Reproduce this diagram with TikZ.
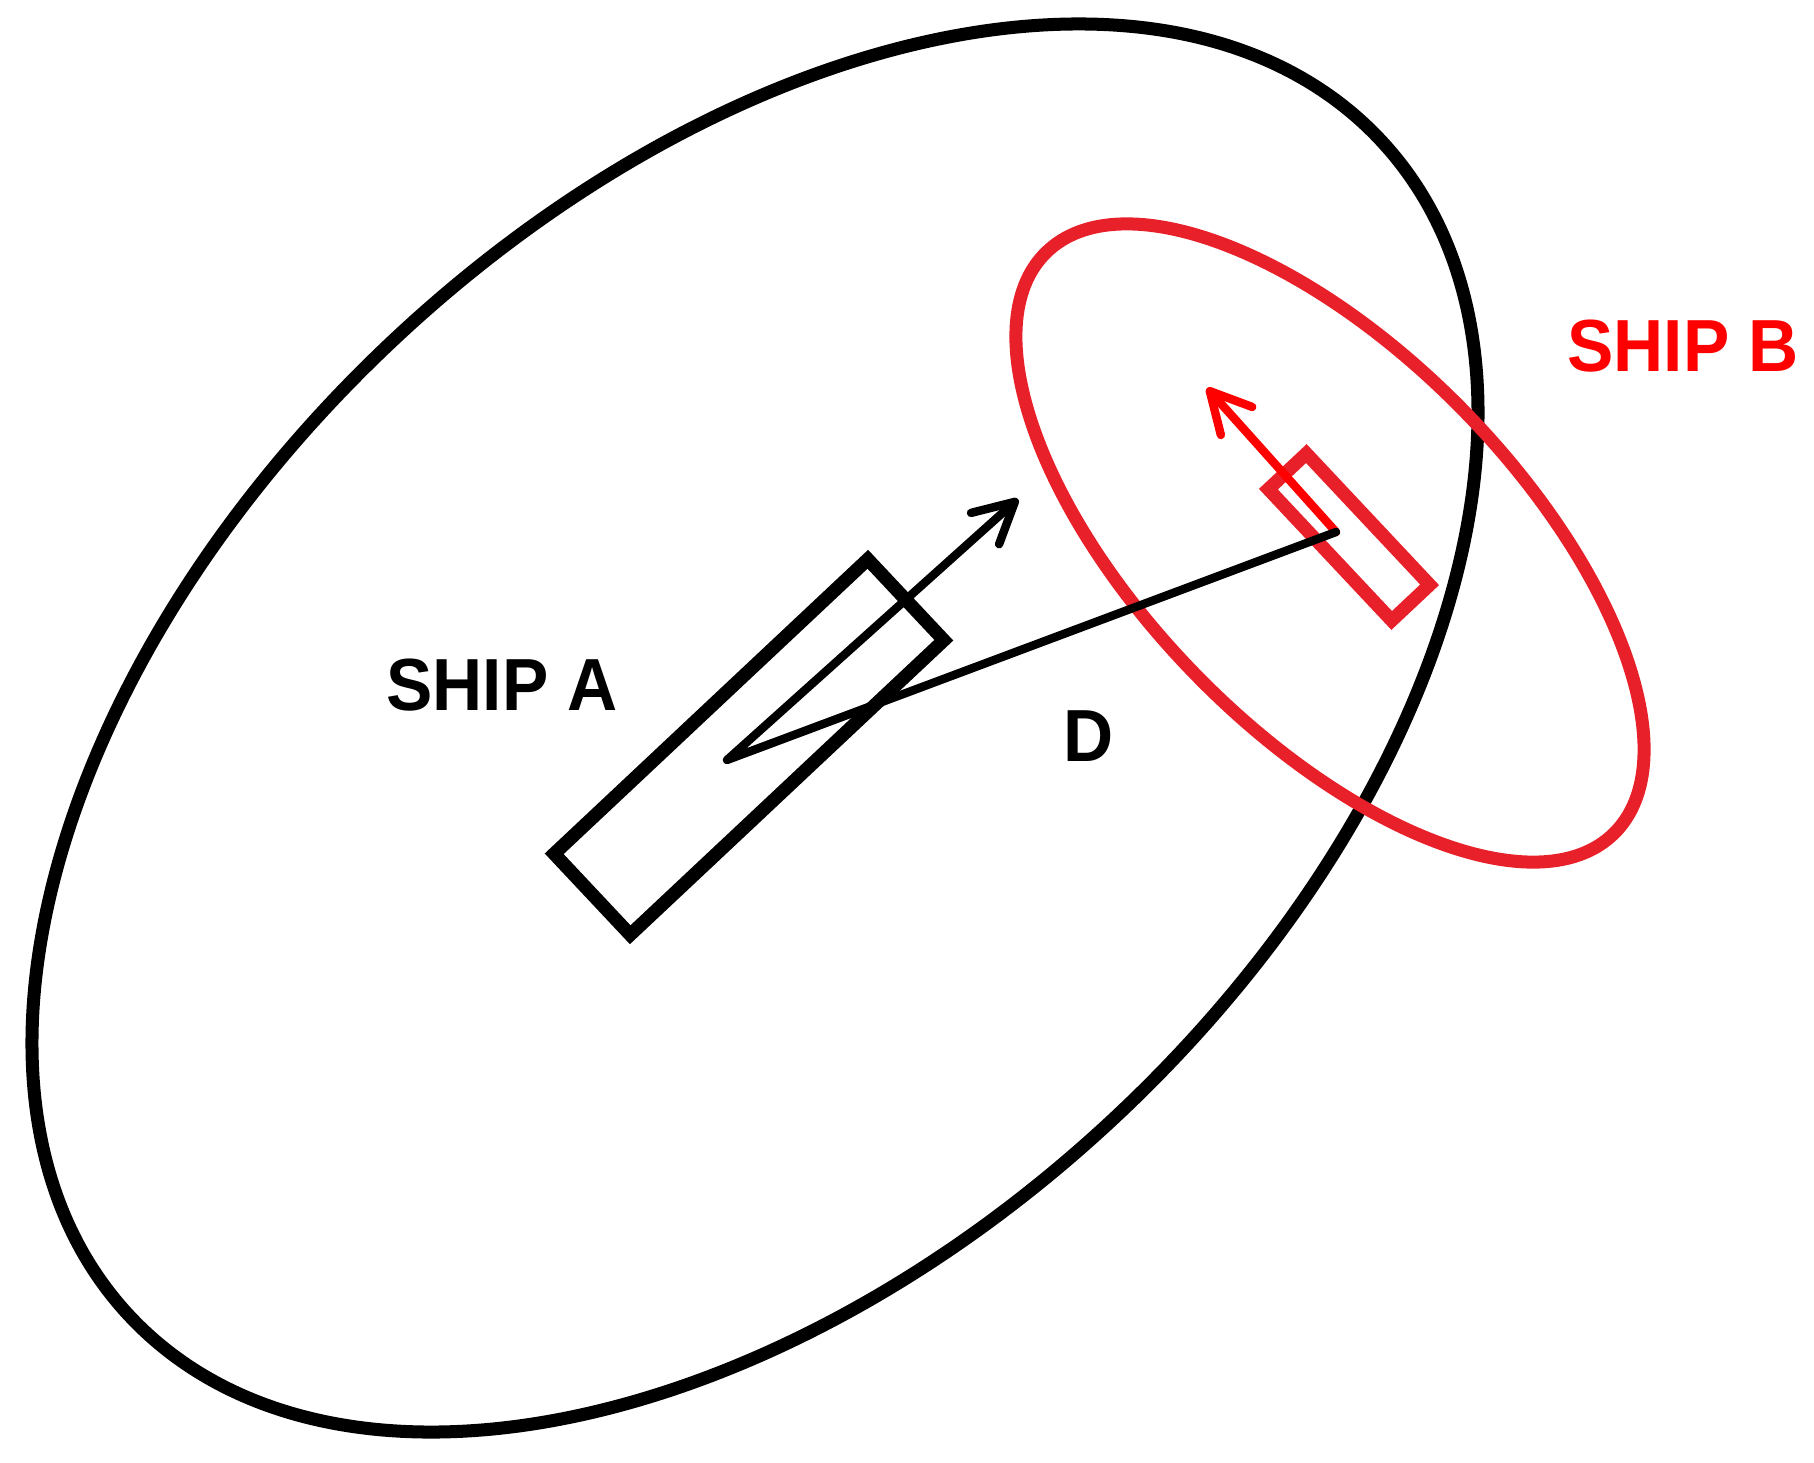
\documentclass[tikz,border=0pt]{standalone}
\usepackage{fontspec}
\setmainfont[FakeStretch=0.94]{Liberation Sans}
\usepackage{xcolor}
\usetikzlibrary{arrows.meta}
\definecolor{shipred}{RGB}{232,32,42}

\begin{document}
\begin{tikzpicture}[x=0.01cm, y=-0.01cm, every node/.style={font=\fontsize{21}{25}\selectfont\bfseries}, >={Straight Barb[length=4mm,width=4.2mm,round]}, line cap=round]
\useasboundingbox (0,0) rectangle (1814,1463);
% range ellipses
\draw[line width=3.7pt, rotate around={43.3:(755,728)}] (755,728) ellipse [x radius=8.58cm, y radius=5.30cm];
\draw[shipred, line width=3.7pt, rotate around={-45.7:(1330,543)}] (1330,543) ellipse [x radius=4.06cm, y radius=1.88cm];
% ships
\node[draw, line width=3.8pt, inner sep=0pt, minimum width=4.3cm, minimum height=1.11cm, rotate=43.2] (shipA) at (749,747) {};
\node[draw=shipred, line width=3.8pt, inner sep=0pt, minimum width=1.8cm, minimum height=0.52cm, rotate=-46.8] (shipB) at (1349,537) {};
\coordinate (pivA) at (727,760);
\coordinate (tipA) at (1018,499);
\coordinate (pivB) at (1336,532);
\coordinate (tipB) at (1207,388);
% headings and distance
\draw[red, line width=2.4pt, ->] (pivB) -- (tipB);
\draw[line width=2.4pt, ->, line join=round] (pivB) -- (pivA) -- (tipA);
\node (labA) at (502,685) {SHIP A};
\node[red] (labB) at (1683,346) {SHIP B};
\node (labD) at (1089,736) {D};
\end{tikzpicture}
\end{document}
